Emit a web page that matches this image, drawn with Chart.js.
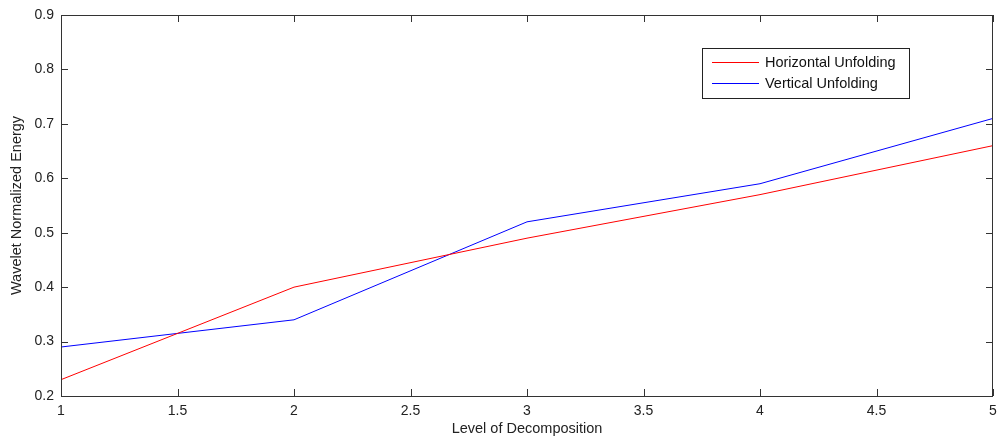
<!DOCTYPE html>
<html>
<head>
<meta charset="utf-8">
<script src="https://cdn.jsdelivr.net/npm/chart.js@4.4.1/dist/chart.umd.min.js"></script>
<style>
  html, body { margin: 0; padding: 0; background: #fff; }
  #wrap { width: 998px; height: 438px; position: relative; }
</style>
</head>
<body>
<div id="wrap"><canvas id="c" width="998" height="438"></canvas></div>
<script>
const levels = [1, 2, 3, 4, 5];
const horizontalUnfolding = [0.23, 0.40, 0.49, 0.57, 0.66];
const verticalUnfolding = [0.29, 0.34, 0.52, 0.59, 0.71];
const xTickValues = [1, 1.5, 2, 2.5, 3, 3.5, 4, 4.5, 5];
const yTickValues = [0.2, 0.3, 0.4, 0.5, 0.6, 0.7, 0.8, 0.9];
const xTickLabels = ['1', '1.5', '2', '2.5', '3', '3.5', '4', '4.5', '5'];
const yTickLabels = ['0.2', '0.3', '0.4', '0.5', '0.6', '0.7', '0.8', '0.9'];
const seriesNames = ['Horizontal Unfolding', 'Vertical Unfolding'];
const xTitle = 'Level of Decomposition';
const yTitle = 'Wavelet Normalized Energy';

const AXIS = '#333333';
const FONT = '"Liberation Sans", Arial, Helvetica, sans-serif';

function pts(xs, ys) { return xs.map((x, i) => ({ x: x, y: ys[i] })); }

const boxAndTicks = {
  id: 'boxAndTicks',
  afterDatasetsDraw(chart) {
    const { ctx, chartArea: a, scales } = chart;
    const L = 7;
    ctx.save();
    ctx.strokeStyle = AXIS;
    ctx.lineWidth = 1;
    ctx.beginPath();
    scales.x.ticks.forEach(t => {
      const px = Math.round(scales.x.getPixelForValue(t.value)) + 0.5;
      ctx.moveTo(px, a.bottom); ctx.lineTo(px, a.bottom - L);
      ctx.moveTo(px, a.top); ctx.lineTo(px, a.top + L);
    });
    scales.y.ticks.forEach(t => {
      const py = Math.round(scales.y.getPixelForValue(t.value)) + 0.5;
      ctx.moveTo(a.left, py); ctx.lineTo(a.left + L, py);
      ctx.moveTo(a.right, py); ctx.lineTo(a.right - L, py);
    });
    ctx.stroke();
    ctx.strokeRect(Math.round(a.left) + 0.5, Math.round(a.top) + 0.5,
                   Math.round(a.right - a.left) - 1, Math.round(a.bottom - a.top));
    // legend
    const lx = 702.5, ly = 48.5, lw = 207, lh = 50;
    ctx.fillStyle = '#fff';
    ctx.fillRect(lx, ly, lw, lh);
    ctx.strokeStyle = '#222';
    ctx.strokeRect(lx, ly, lw, lh);
    ctx.font = '14.5px ' + FONT;
    ctx.textBaseline = 'middle';
    chart.data.datasets.forEach((ds, i) => {
      const y = [62.5, 83.5][i];
      ctx.strokeStyle = ds.borderColor;
      ctx.beginPath(); ctx.moveTo(712, y); ctx.lineTo(759, y); ctx.stroke();
      ctx.fillStyle = '#111';
      ctx.fillText(ds.label, 765, y + 0.5);
    });
    ctx.restore();
  }
};

new Chart(document.getElementById('c'), {
  type: 'scatter',
  data: {
    datasets: [
      { label: seriesNames[0], data: pts(levels, horizontalUnfolding), borderColor: '#ff0000',
        backgroundColor: '#ff0000', showLine: true, borderWidth: 1, pointRadius: 0, tension: 0 },
      { label: seriesNames[1], data: pts(levels, verticalUnfolding), borderColor: '#0000ff',
        backgroundColor: '#0000ff', showLine: true, borderWidth: 1, pointRadius: 0, tension: 0 }
    ]
  },
  options: {
    responsive: false,
    animation: false,
    devicePixelRatio: 1,
    layout: { padding: { left: 0, top: 15, right: 5, bottom: 0 } },
    plugins: { legend: { display: false }, tooltip: { enabled: false } },
    scales: {
      x: {
        type: 'linear', min: 1, max: 5,
        grid: { display: false, drawTicks: false }, border: { display: false },
        afterBuildTicks(s) { s.ticks = xTickValues.map(v => ({ value: v })); },
        afterFit(s) { s.height = 42; s.paddingLeft = 0; s.paddingRight = 0; },
        ticks: { color: '#222', padding: 7, maxRotation: 0, autoSkip: false,
          font: { family: FONT, size: 14 },
          callback: (v) => { const i = xTickValues.indexOf(v); return i >= 0 ? xTickLabels[i] : ''; } },
        title: { display: true, text: xTitle, color: '#222', padding: { top: 0, bottom: 0 },
          font: { family: FONT, size: 14.5 } }
      },
      y: {
        type: 'linear', min: 0.2, max: 0.9,
        grid: { display: false, drawTicks: false }, border: { display: false },
        afterBuildTicks(s) { s.ticks = yTickValues.map(v => ({ value: v })); },
        afterFit(s) { s.width = 61; s.paddingTop = 0; s.paddingBottom = 0; },
        ticks: { color: '#222', padding: 7, autoSkip: false,
          font: { family: FONT, size: 14 },
          callback: (v) => { const i = yTickValues.findIndex(t => Math.abs(t - v) < 1e-9); return i >= 0 ? yTickLabels[i] : ''; } },
        title: { display: true, text: yTitle, color: '#222', padding: { top: 8, bottom: 0 },
          font: { family: FONT, size: 14.5 } }
      }
    }
  },
  plugins: [boxAndTicks]
});
</script>
</body>
</html>
